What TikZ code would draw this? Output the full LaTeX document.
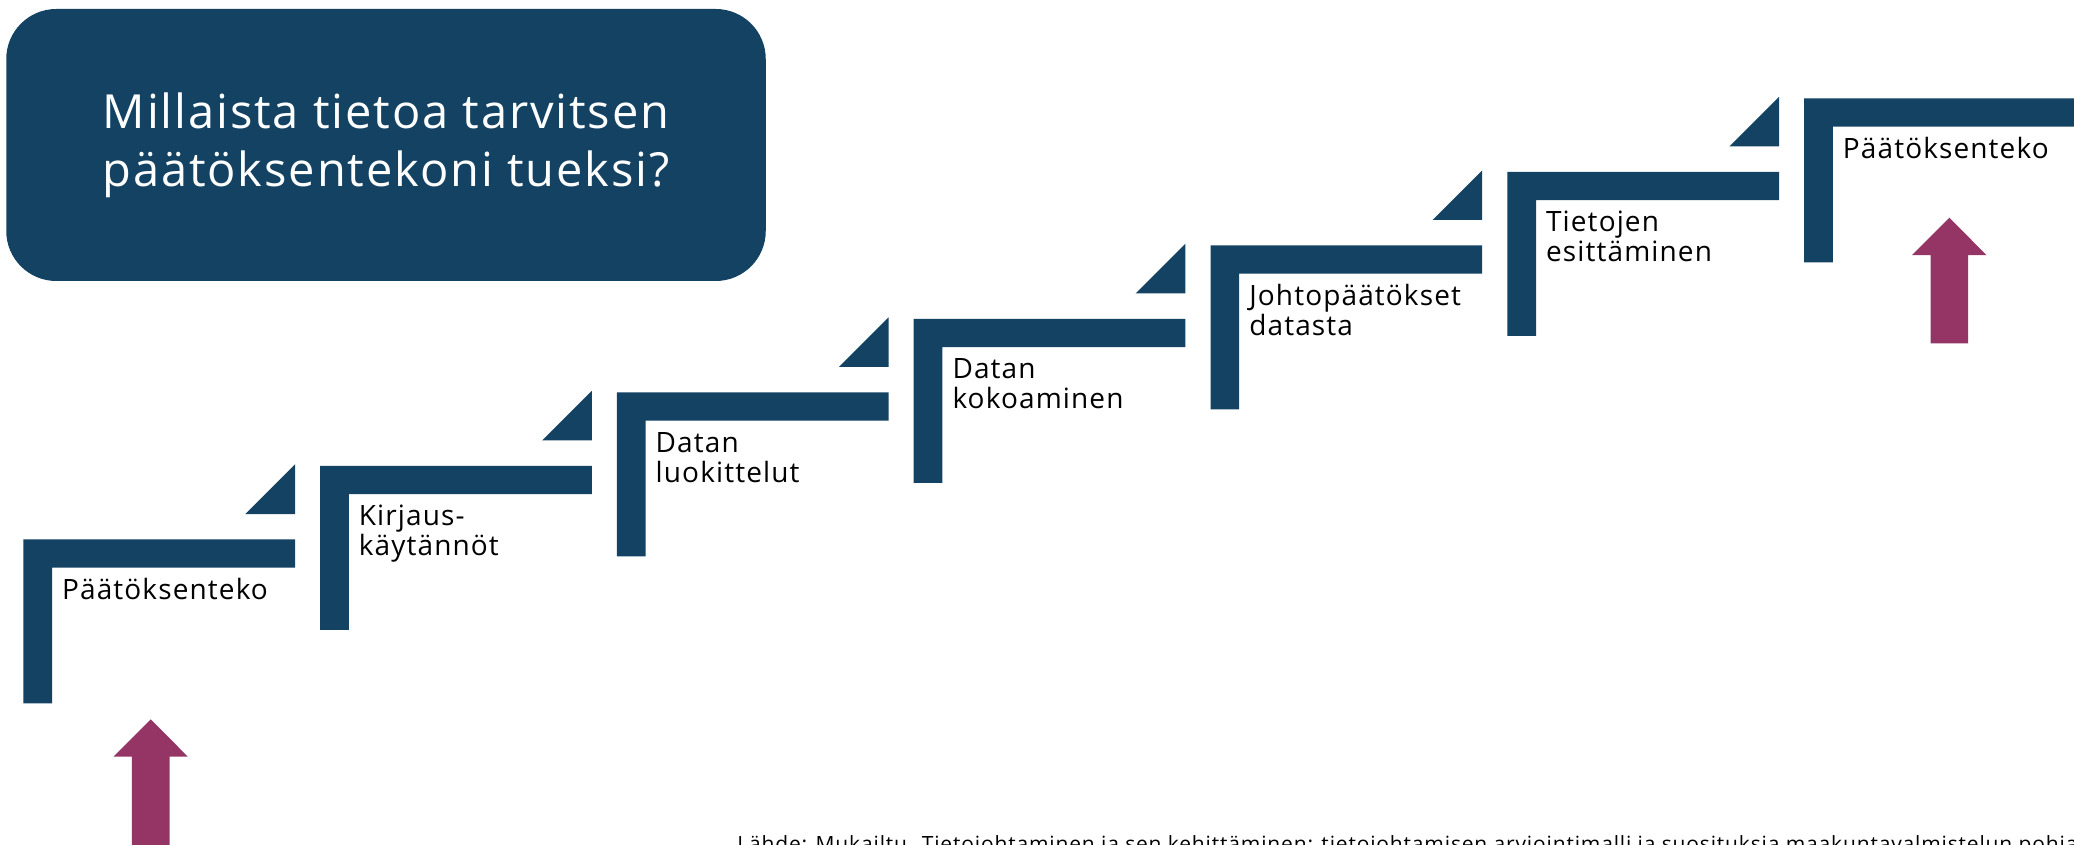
\documentclass[tikz,border=0pt]{standalone}
\usepackage{fontspec}
\setmainfont[LetterSpace=4]{Open Sans}
\definecolor{navy}{RGB}{19,66,99}
\definecolor{plum}{RGB}{148,53,102}
\begin{document}
\begin{tikzpicture}[x=0.5pt, y=-0.5pt]
\tikzset{stepfill/.style={fill=navy}}
\tikzset{up/.style={fill=plum}}
\tikzset{lbl/.style={inner sep=0pt, anchor=base west, align=left, font=\fontsize{14}{15}\selectfont}}
\useasboundingbox (0,0) rectangle (2074,845);
\clip (0,0) rectangle (2074,845);

\node (q) at (386,145) [fill=navy, rounded corners=25pt, minimum width=379.75pt, minimum height=136pt,
  text=white, align=center, font=\fontsize{23.5}{29}\selectfont] {Millaista tietoa tarvitsen\\päätöksentekoni tueksi?};

\foreach \i/\n/\txt in {0/0/{Päätöksenteko}, 1/1/{Kirjaus-\\käytännöt}, 2/1/{Datan\\luokittelut},
  3/1/{Datan\\kokoaminen}, 4/1/{Johtopäätökset\\datasta}, 5/1/{Tietojen\\esittäminen}, 6/0/{Päätöksenteko}}{
  \coordinate (c\i) at (23.3+296.8*\i, 539.3-73.5*\i);
  \fill[stepfill] (c\i) -- ++(271.7,0) -- ++(0,28.4) -- ++(-243,0) -- ++(0,135.6) -- ++(-28.7,0) -- cycle;
  \ifnum\i<6
    \fill[stepfill] (c\i) ++(271.7,-25.3) -- ++(0,-49.7) -- ++(-49.7,49.7) -- cycle;
  \fi
  \node[lbl] (s\i) at ([shift={(38.4,60+30*\n)}]c\i) {\txt};
}

\foreach \x/\y/\b in {150.7/719.3/850, 1949.3/217.7/343.3}
  \fill[up] (\x,\y) -- ++(37.2,37.4) -- ++(-18.4,0) -- (\x+18.8,\b) -- (\x-18.8,\b) -- (\x-18.8,\y+37.4) -- ++(-18.4,0) -- cycle;

\node[inner sep=0pt, anchor=base west, font=\fontsize{10.5}{12}\selectfont] (src) at (737,851)
  {Lähde: Mukailtu. Tietojohtaminen ja sen kehittäminen: tietojohtamisen arviointimalli ja suosituksia maakuntavalmistelun pohjaksi};
\end{tikzpicture}
\end{document}
